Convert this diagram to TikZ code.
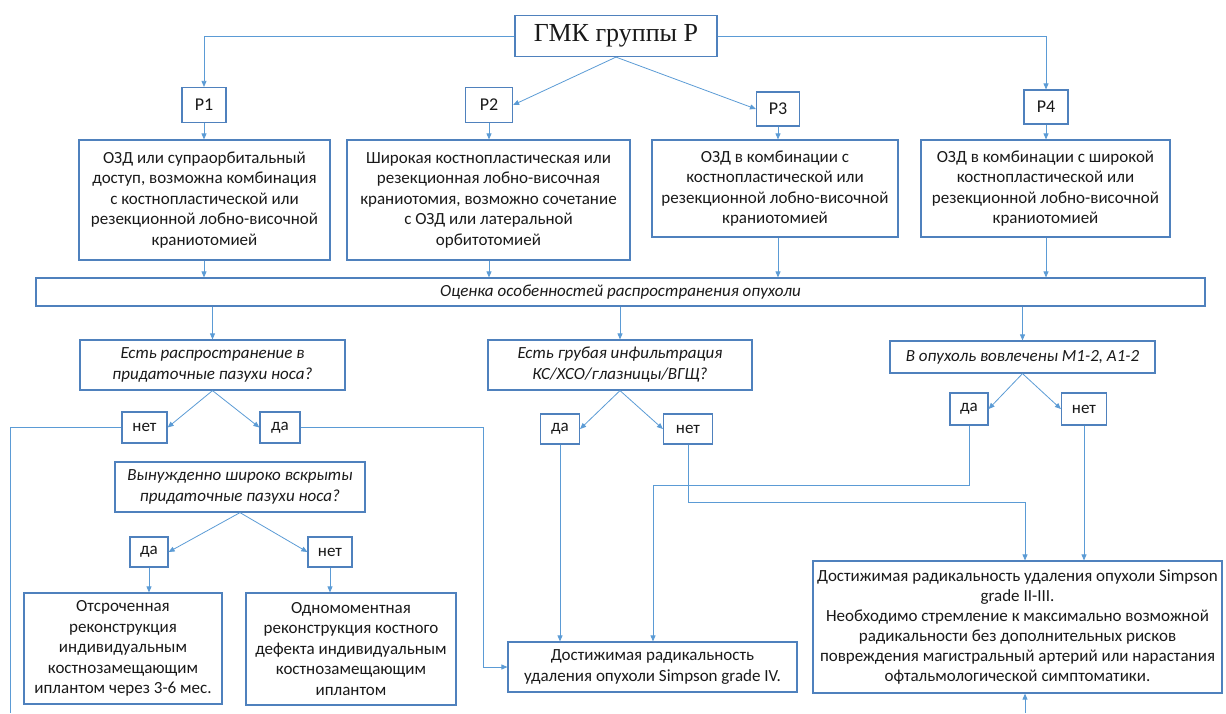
\documentclass[tikz,border=0pt]{standalone}
\usepackage{fontspec}
\setmainfont{Carlito}
\newfontfamily\ttlfont{Liberation Serif}
\usetikzlibrary{arrows.meta}
\definecolor{lineblue}{RGB}{91,155,213}
\definecolor{boxblue}{RGB}{79,129,189}
\begin{document}
\begin{tikzpicture}[x=1pt,y=-1pt,
	box/.style={draw=boxblue,line width=1.2pt,align=center,inner sep=0pt,text=black!90,font=\fontsize{17}{20.5}\selectfont},
	qbox/.style={box,font=\fontsize{17}{21}\selectfont\itshape},
	lbl/.style={box,font=\fontsize{17}{18}\selectfont},
	ln/.style={draw=lineblue,line width=.8pt},
	arr/.style={ln,-{Triangle[length=6pt,width=5pt]}}]
	\useasboundingbox (0,0) rectangle (1226,713);
	\node[box,minimum width=202,minimum height=41,font=\ttlfont\fontsize{26}{26}\selectfont] (top) at (616,36) {ГМК группы Р};
	\node[lbl,minimum width=44,minimum height=35,font=\fontsize{18}{18}\selectfont] (p1) at (204,105) {P1};
	\node[lbl,minimum width=47,minimum height=35,font=\fontsize{18}{18}\selectfont] (p2) at (489,105) {P2};
	\node[lbl,minimum width=43,minimum height=34,font=\fontsize{18}{18}\selectfont] (p3) at (778,109) {P3};
	\node[lbl,minimum width=44,minimum height=34,font=\fontsize{18}{18}\selectfont] (p4) at (1046,107) {P4};
	\node[box,minimum width=251,minimum height=120] (d1) at (204.5,200) {ОЗД или супраорбитальный\\доступ, возможна комбинация\\с костнопластической или\\резекционной лобно-височной\\краниотомией};
	\node[box,minimum width=283,minimum height=120] (d2) at (488.5,200) {Широкая костнопластическая или\\резекционная лобно-височная\\краниотомия, возможно сочетание\\с ОЗД или латеральной\\орбитотомией};
	\node[box,minimum width=246,minimum height=97] (d3) at (775,188.5) {ОЗД в комбинации с\\костнопластической или\\резекционной лобно-височной\\краниотомией};
	\node[box,minimum width=249,minimum height=97] (d4) at (1045.5,188.5) {ОЗД в комбинации с широкой\\костнопластической или\\резекционной лобно-височной\\краниотомией};
	\node[qbox,minimum width=1169,minimum height=28] (est) at (620.5,292) {Оценка особенностей распространения опухоли};
	\node[qbox,minimum width=265,minimum height=50] (q1) at (212.5,365) {Есть распространение в\\придаточные пазухи носа?};
	\node[qbox,minimum width=264,minimum height=50] (q2) at (620,365) {Есть грубая инфильтрация\\КС/ХСО/глазницы/ВГЩ?};
	\node[qbox,minimum width=265,minimum height=32] (q3) at (1022.5,357) {В опухоль вовлечены М1-2, А1-2};
	\node[lbl,minimum width=45,minimum height=31] (no1) at (144.5,427.5) {нет};
	\node[lbl,minimum width=40,minimum height=31] (yes1) at (280,427.5) {да};
	\node[qbox,minimum width=250,minimum height=50] (q4) at (240,487) {Вынужденно широко вскрыты\\придаточные пазухи носа?};
	\node[lbl,minimum width=38,minimum height=30] (yes2) at (149,552) {да};
	\node[lbl,minimum width=44,minimum height=30] (no2) at (330,552) {нет};
	\node[box,minimum width=198,minimum height=111] (b5) at (123,648.5) {Отсроченная\\реконструкция\\индивидуальным\\костнозамещающим\\иплантом через 3-6 мес.};
	\node[box,minimum width=210,minimum height=112] (b6) at (351,649) {Одномоментная\\реконструкция костного\\дефекта индивидуальным\\костнозамещающим\\иплантом};
	\node[lbl,minimum width=39,minimum height=30] (yes3) at (560,429) {да};
	\node[lbl,minimum width=49,minimum height=30] (no3) at (688,429) {нет};
	\node[lbl,minimum width=38,minimum height=32] (yes4) at (969,409) {да};
	\node[lbl,minimum width=45,minimum height=32] (no4) at (1084,409) {нет};
	\node[box,minimum width=289,minimum height=50] (s4) at (652.5,667) {Достижимая радикальность\\удаления опухоли Simpson grade IV.};
	\node[box,minimum width=409,minimum height=132,font=\fontsize{17}{20}\selectfont] (s23) at (1017.5,627) {Достижимая радикальность удаления опухоли Simpson\\grade II-III.\\Необходимо стремление к максимально возможной\\радикальности без дополнительных рисков\\повреждения магистральный артерий или нарастания\\офтальмологической симптоматики.};
	\coordinate (offl) at (10,713);
	\coordinate (c1) at (483,667);
	\coordinate (k3) at (1025,502);
	\coordinate (k4) at (653,485);
	\coordinate (offb) at (1025,713);
	\draw[arr] (top.west) -| (p1.north);
	\draw[arr] (top.east) -| (p4.north);
	\draw[arr] (top.south) -- (p2.east);
	\draw[arr] (top.south) -- (p3.west);
	\draw[arr] (p1.south) -- (p1 |- d1.north);
	\draw[arr] (p2.south) -- (p2 |- d2.north);
	\draw[arr] (p3.south) -- (p3 |- d3.north);
	\draw[arr] (p4.south) -- (p4 |- d4.north);
	\draw[arr] (p1 |- d1.south) -- (p1 |- est.north);
	\draw[arr] (p2 |- d2.south) -- (p2 |- est.north);
	\draw[arr] (p3 |- d3.south) -- (p3 |- est.north);
	\draw[arr] (p4 |- d4.south) -- (p4 |- est.north);
	\draw[arr] (q1 |- est.south) -- (q1.north);
	\draw[arr] (q2 |- est.south) -- (q2.north);
	\draw[arr] (q3 |- est.south) -- (q3.north);
	\draw[arr] (q1.south) -- (no1.east);
	\draw[arr] (q1.south) -- (yes1.west);
	\draw[ln] (no1.west) -| (offl);
	\draw[arr] (yes1.east) -| (c1) -- (s4.west);
	\draw[arr] (q4.south) -- (yes2.east);
	\draw[arr] (q4.south) -- (no2.west);
	\draw[arr] (yes2.south) -- (yes2 |- b5.north);
	\draw[arr] (no2.south) -- (no2 |- b6.north);
	\draw[arr] (q2.south) -- (yes3.east);
	\draw[arr] (q2.south) -- (no3.west);
	\draw[arr] (yes3.south) -- (yes3 |- s4.north);
	\draw[arr] (no3.south) |- (k3) -- (k3 |- s23.north);
	\draw[arr] (q3.south) -- (yes4.east);
	\draw[arr] (q3.south) -- (no4.west);
	\draw[arr] (yes4.south) |- (k4) -- (k4 |- s4.north);
	\draw[arr] (no4.south) -- (no4 |- s23.north);
	\draw[arr] (offb) -- (offb |- s23.south);
\end{tikzpicture}
\end{document}
